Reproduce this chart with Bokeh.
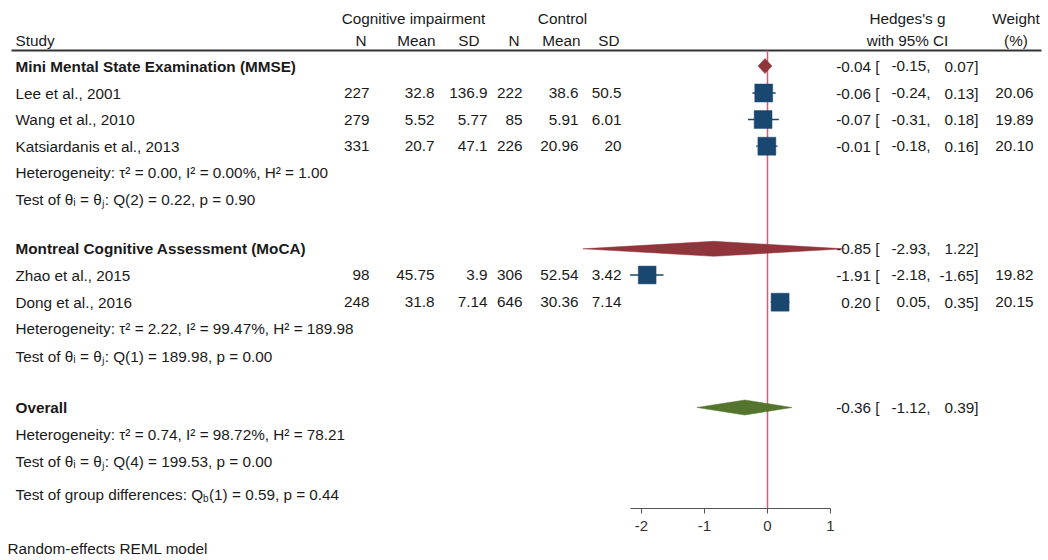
from bokeh.plotting import figure
from bokeh.models import Range1d, LinearAxis, FixedTicker, ColumnDataSource
from bokeh.core.properties import value
from bokeh.embed import file_html
from bokeh.resources import INLINE

# ---------------- data ----------------
studies = ["Lee et al., 2001", "Wang et al., 2010", "Katsiardanis et al., 2013",
           "Zhao et al., 2015", "Dong et al., 2016"]
n_ci = [227, 279, 331, 98, 248]
mean_ci = [32.8, 5.52, 20.7, 45.75, 31.8]
sd_ci = [136.9, 5.77, 47.1, 3.9, 7.14]
n_ct = [222, 85, 226, 306, 646]
mean_ct = [38.6, 5.91, 20.96, 52.54, 30.36]
sd_ct = [50.5, 6.01, 20, 3.42, 7.14]
g = [-0.06, -0.07, -0.01, -1.91, 0.20]
g_lo = [-0.24, -0.31, -0.18, -2.18, 0.05]
g_hi = [0.13, 0.18, 0.16, -1.65, 0.35]
weight = [20.06, 19.89, 20.10, 19.82, 20.15]

group_names = ["Mini Mental State Examination (MMSE)", "Montreal Cognitive Assessment (MoCA)", "Overall"]
pooled = [-0.04, -0.85, -0.36]
pooled_lo = [-0.15, -2.93, -1.12]
pooled_hi = [0.07, 1.22, 0.39]
het_text = ["Heterogeneity: \u03c4\u00b2 = 0.00, I\u00b2 = 0.00%, H\u00b2 = 1.00",
            "Heterogeneity: \u03c4\u00b2 = 2.22, I\u00b2 = 99.47%, H\u00b2 = 189.98",
            "Heterogeneity: \u03c4\u00b2 = 0.74, I\u00b2 = 98.72%, H\u00b2 = 78.21"]
test_text = ["Test of \u03b8\u1d62 = \u03b8\u2c7c: Q(2) = 0.22, p = 0.90",
             "Test of \u03b8\u1d62 = \u03b8\u2c7c: Q(1) = 189.98, p = 0.00",
             "Test of \u03b8\u1d62 = \u03b8\u2c7c: Q(4) = 199.53, p = 0.00"]
group_diff = ["Test of group differences: Q", "b", "(1) = 0.59, p = 0.44"]
footnote = "Random-effects REML model"
ticks = [-2, -1, 0, 1]
null_value = 0

# ---------------- layout constants ----------------
W, H = 1048, 560
ZERO_PX, UNIT_PX = 767, 63    # effect-size scale placement
study_y = [92.5, 119, 145.7, 274.5, 301.7]
group_y = [65.5, 248.3, 407]
het_y = [172, 328.3, 434]
test_y = [198.5, 355.5, 461]
gdiff_y = 494
foot_y = 548
rule_y = 50
axis_y = 508
col_right = [369, 434, 487, 522, 578, 621]
hdr_right = [366, 435, 479, 519, 580, 619]
FONT = value("Liberation Sans")
FS = "15.3px"
TXT = "#1a1a1a"
NAVY = "#1A476F"
MAROON = "#90353B"
GREEN = "#55752F"
REFLINE = "#DC5A78"

p = figure(width=W, height=H, x_range=Range1d(0, W), y_range=Range1d(H, 0),
           x_axis_type=None, y_axis_type=None, toolbar_location=None,
           output_backend="svg", min_border=0, outline_line_color=None)
p.xgrid.visible = False
p.ygrid.visible = False
p.extra_x_ranges = {"es": Range1d((0 - ZERO_PX) / UNIT_PX, (W - ZERO_PX) / UNIT_PX)}


def txt(x, y, t, align="left", bold=False, size=FS, color=TXT):
    p.text(x=x, y=y, text=t, text_align=align, text_baseline="middle",
           text_font=FONT, text_font_size=size, text_color=color,
           text_font_style="bold" if bold else "normal")


# header
txt([413, 562], [18, 18], ["Cognitive impairment", "Control"], align="center")
txt([907, 907, 1015.5, 1015.5], [18, 39.5, 18, 39.5],
    ["Hedges's g", "with 95% CI", "Weight", "(%)"], align="center")
txt([15], [39.5], ["Study"])
txt(hdr_right, [39.5] * 6, ["N", "Mean", "SD", "N", "Mean", "SD"], align="right")
p.segment(x0=[11], x1=[1041], y0=[rule_y], y1=[rule_y], line_color="#333333", line_width=2)

# study rows text
fmt = lambda v: "{:g}".format(v)
txt([15] * 5, study_y, studies)
for j, col in enumerate([n_ci, mean_ci, sd_ci, n_ct, mean_ct, sd_ct]):
    txt([col_right[j]] * 5, study_y, [fmt(v) for v in col], align="right")

all_y = study_y + group_y
all_est = g + pooled
all_lo = g_lo + pooled_lo
all_hi = g_hi + pooled_hi
txt([879] * len(all_y), all_y, ["{:.2f} [".format(v) for v in all_est], align="right")
txt([930] * len(all_y), all_y, ["{:.2f},".format(v) for v in all_lo], align="right")
txt([978] * len(all_y), all_y, ["{:.2f}]".format(v) for v in all_hi], align="right")
txt([1033] * 5, study_y, ["{:.2f}".format(v) for v in weight], align="right")

# group labels and statistics
txt([15] * 3, group_y, group_names, bold=True)
txt([15] * 3, het_y, het_text)
txt([15] * 3, test_y, test_text)
txt([15], [gdiff_y], [group_diff[0]])
txt([202.5], [gdiff_y + 4], [group_diff[1]], size="10px")
txt([208.5], [gdiff_y], [group_diff[2]])
txt([7], [foot_y], [footnote])

# null reference line
p.segment(x0=[null_value], x1=[null_value], y0=[rule_y], y1=[axis_y],
          x_range_name="es", line_color=REFLINE, line_width=1.5)

# CIs and squares
src = ColumnDataSource(dict(g=g, lo=g_lo, hi=g_hi, y=study_y,
                            size=[4.0 * w ** 0.5 for w in weight]))
p.segment(x0="lo", x1="hi", y0="y", y1="y", source=src, x_range_name="es",
          line_color=NAVY, line_width=1.3)
p.scatter(x="g", y="y", size="size", marker="square", source=src, x_range_name="es",
          fill_color=NAVY, line_color=NAVY, line_width=0.5)

# diamonds
hh = 7.5
colors = [MAROON, MAROON, GREEN]
p.patches(xs=[[lo, e, hi, e] for lo, e, hi in zip(pooled_lo, pooled, pooled_hi)],
          ys=[[y, y - hh, y, y + hh] for y in group_y],
          x_range_name="es", fill_color=colors, line_color=colors, line_width=0.5)

# axis
ax = LinearAxis(x_range_name="es", ticker=FixedTicker(ticks=ticks),
                bounds=(min(g_lo), max(ticks)), fixed_location=axis_y)
ax.axis_line_color = "#555555"
ax.axis_line_width = 1.2
ax.major_tick_line_color = "#555555"
ax.major_tick_in = 0
ax.major_tick_out = 5
ax.minor_tick_line_color = None
ax.major_label_overrides = {t: str(t) for t in ticks}
ax.major_label_text_font = "Liberation Sans"
ax.major_label_text_font_size = "15px"
ax.major_label_text_color = "#333333"
ax.major_label_standoff = 7
p.add_layout(ax, "below")

open("out.html", "w").write(file_html(p, INLINE))
